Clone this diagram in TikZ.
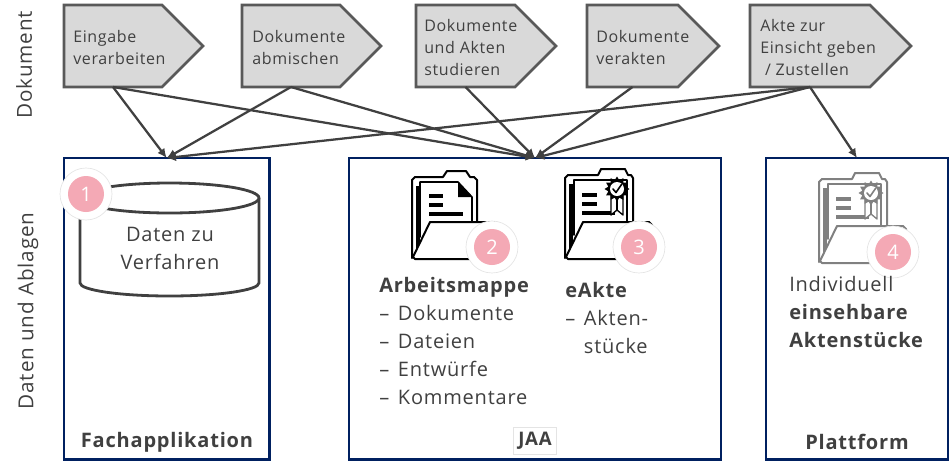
\documentclass[tikz,border=0pt]{standalone}
\usepackage{fontspec}
\setmainfont{Open Sans}[LetterSpace=4]
\usetikzlibrary{backgrounds,arrows.meta}
\definecolor{ink}{HTML}{404040}
\definecolor{stepfill}{HTML}{D9D9D9}
\definecolor{stepline}{HTML}{595959}
\definecolor{navy}{HTML}{002060}
\definecolor{rosa}{HTML}{F4A9B5}
\definecolor{halo}{HTML}{E4E4E4}
\tikzset{
 x=0.75pt,y=-0.75pt,
 stepbody/.style={inner sep=0,outer sep=0,minimum height=61.5pt,anchor=north west},
 steptext/.style={inner sep=0,text=ink,font=\fontsize{12}{16.5}\selectfont,align=left,anchor=west},
 steppent/.style={draw=stepline,fill=stepfill,line width=2pt,line join=miter},
 link/.style={draw=ink,line width=1.7pt,-{Latex[length=7pt,width=6.5pt]}},
 frame/.style={draw=navy,line width=2.1pt,minimum height=226pt,anchor=north west,inner sep=0,outer sep=0},
 boxtitle/.style={text=ink,font=\fontsize{15}{16}\selectfont\bfseries,inner sep=0},
 label/.style={text=ink,font=\fontsize{15}{21}\selectfont,align=left,anchor=north west,inner sep=0},
 side/.style={text=ink,font=\fontsize{15.5}{18}\selectfont,rotate=90,inner sep=0},
 badge/.style={circle,fill=rosa,draw=none,text=white,minimum size=27pt,inner sep=0,font=\fontsize{15}{15}\selectfont},
 halocirc/.style={circle,fill=white,draw=halo,line width=.5pt,minimum size=39pt,inner sep=0},
}
\newcommand{\dashitem}{\makebox[14pt][l]{–}}
% plain folder with a dog-eared page, origin = top left of the folder
\newcommand{\folderplain}[3]{%
\begin{scope}[shift={(#1,#2)},line join=round,line cap=round]
 \draw[#3,line width=1.5pt,fill=white] (0,81) -- (0,3) -- (3,0) -- (31,0) -- (35,-6) -- (54,-6) -- (58,0) -- (62,0) -- (65,3) -- (65,45);
 \fill[#3] (4,9) rectangle (8,72);
 \draw[#3,line width=1.2pt,fill=white] (8,60) -- (8,5) -- (46,5) -- (60,20) -- (60,46);
 \fill[#3] (46,5) -- (60,20) -- (46,20) -- cycle;
 \draw[#3,line width=2.4pt,line cap=butt] (17,19) -- (31,19) (17,28) -- (31,28) (17,37) -- (51,37);
 \draw[#3,line width=1.5pt,fill=white] (1,80) -- (18,45) -- (82,45) -- (85,48) -- (85,82) -- (3,82) -- cycle;
\end{scope}}
% folder with a page carrying a seal
\newcommand{\folderseal}[3]{%
\begin{scope}[shift={(#1,#2)},line join=round,line cap=round]
 \draw[#3,line width=1.5pt,fill=white] (0,83) -- (0,3) -- (3,0) -- (33,0) -- (36,-6) -- (60,-6) -- (63,0) -- (66,0) -- (68,3) -- (68,47);
 \fill[#3] (4,9) rectangle (8,74);
 \draw[#3,line width=1.2pt,fill=white] (9,60) -- (9,5) -- (62,5) -- (62,47);
 \draw[#3,line width=2.4pt,line cap=butt] (17,20) -- (32,20) (17,29) -- (32,29) (17,38) -- (50,38);
 \draw[#3,line width=1pt,fill=white] (46,20) -- (46,40) -- (52,35) -- (58,40) -- (58,20);
 \draw[#3,line width=1pt] (52,22) -- (52,35);
 \fill[#3] \foreach \a in {0,30,...,330} {(52,14) -- ({52+12.5*cos(\a)},{14+12.5*sin(\a)}) -- ({52+9*cos(\a+15)},{14+9*sin(\a+15)}) -- cycle (52,14) -- ({52+9*cos(\a+15)},{14+9*sin(\a+15)}) -- ({52+12.5*cos(\a+30)},{14+12.5*sin(\a+30)}) -- cycle};
 \fill[white] (52,14) circle [radius=7];
 \draw[#3,line width=1.2pt] (48,14) -- (51,17.5) -- (56.5,9.5);
 \draw[#3,line width=1.5pt,fill=white] (1,82) -- (18,47) -- (84,47) -- (87,50) -- (87,84) -- (3,84) -- cycle;
\end{scope}}
\begin{document}
\begin{tikzpicture}
\useasboundingbox (0,0) rectangle (951,469);
% process steps
\node[stepbody,minimum width=73.5pt] (p1) at (64,5) {};
\node[stepbody,minimum width=73.5pt] (p2) at (242,5) {};
\node[stepbody,minimum width=74.25pt] (p3) at (416,5) {};
\node[stepbody,minimum width=68.25pt] (p4) at (587,5) {};
\node[stepbody,minimum width=90pt] (p5) at (750,5) {};
\begin{scope}[on background layer]
 \foreach \n in {p1,p2,p3,p4,p5}
  \draw[steppent] (\n.north west) -- (\n.north east) -- ++(41,41) -- ++(-41,41) -- (\n.south west) -- cycle;
\end{scope}
\node[steptext] (q1) at (73,47) {Eingabe\\verarbeiten};
\node[steptext] (q2) at (252,47) {Dokumente\\abmischen};
\node[steptext] (q3) at (424,47) {Dokumente\\und Akten\\studieren};
\node[steptext] (q4) at (596,47) {Dokumente\\verakten};
\node[steptext] (q5) at (760,47) {Akte zur\\Einsicht geben\\\ / Zustellen};
% frames
\node[frame,minimum width=154pt] (b1) at (64,158) {};
\node[frame,minimum width=279pt] (b2) at (349,158) {};
\node[frame,minimum width=136.5pt] (b3) at (766,158) {};
% connectors
\draw[link] (p1.south) -- (b1.north);
\draw[link] (p1.south) -- (b2.north);
\draw[link] (p2.south) -- (b1.north);
\draw[link] (p2.south) -- (b2.north);
\draw[link] (p3.south) -- (b2.north);
\draw[link] (p4.south) -- (b2.north);
\draw[link] (p5.south) -- (b1.north);
\draw[link] (p5.south) -- (b2.north);
\draw[link] (p5.south) -- (b3.north);
% side labels
\node[side] (s1) at (24,65) {Dokument};
\node[side] (s2) at (28,311) {Daten und Ablagen};
% cylinder
\draw[ink,line width=2.1pt,fill=white] (80,198) -- (80,283) arc [start angle=180,end angle=0,x radius=89.5,y radius=13] -- (259,198);
\draw[ink,line width=2.1pt,fill=white] (169.5,198) ellipse [x radius=89.5,y radius=15];
\node[label,align=center,anchor=center] (cyl) at (170,248) {Daten zu\\Verfahren};
% folders
\folderplain{412}{177}{black}
\folderseal{565}{175}{black}
\folderseal{819}{179}{black!50}
% badges
\node[halocirc] (h1) at (86,194) {}; \node[badge] (n1) at (86,194) {1};
\node[halocirc] (h2) at (492,247) {}; \node[badge] (n2) at (492,247) {2};
\node[halocirc] (h3) at (639,247) {}; \node[badge] (n3) at (639,247) {3};
\node[halocirc] (h4) at (893,252) {}; \node[badge] (n4) at (893,252) {4};
% labels
\node[label] (t2) at (379,277.5) {\textbf{Arbeitsmappe}\\\dashitem Dokumente\\\dashitem Dateien\\\dashitem Entwürfe\\\dashitem Kommentare};
\node[label] (t3) at (565,282) {\textbf{eAkte}\\\dashitem Akten-\\\hspace*{14pt}stücke};
\node[label] (t4) at (789,276) {Individuell\\\textbf{einsehbare}\\\textbf{Aktenstücke}};
\node[boxtitle] (f1) at (167,442) {Fachapplikation};
\node[text=ink,font=\fontsize{14}{14}\selectfont\bfseries,fill=white,draw=halo,line width=.4pt,inner sep=0,minimum width=32pt,minimum height=20pt] (f2) at (535,440.5) {JAA};
\node[boxtitle] (f3) at (857,442) {Plattform};
\end{tikzpicture}
\end{document}
